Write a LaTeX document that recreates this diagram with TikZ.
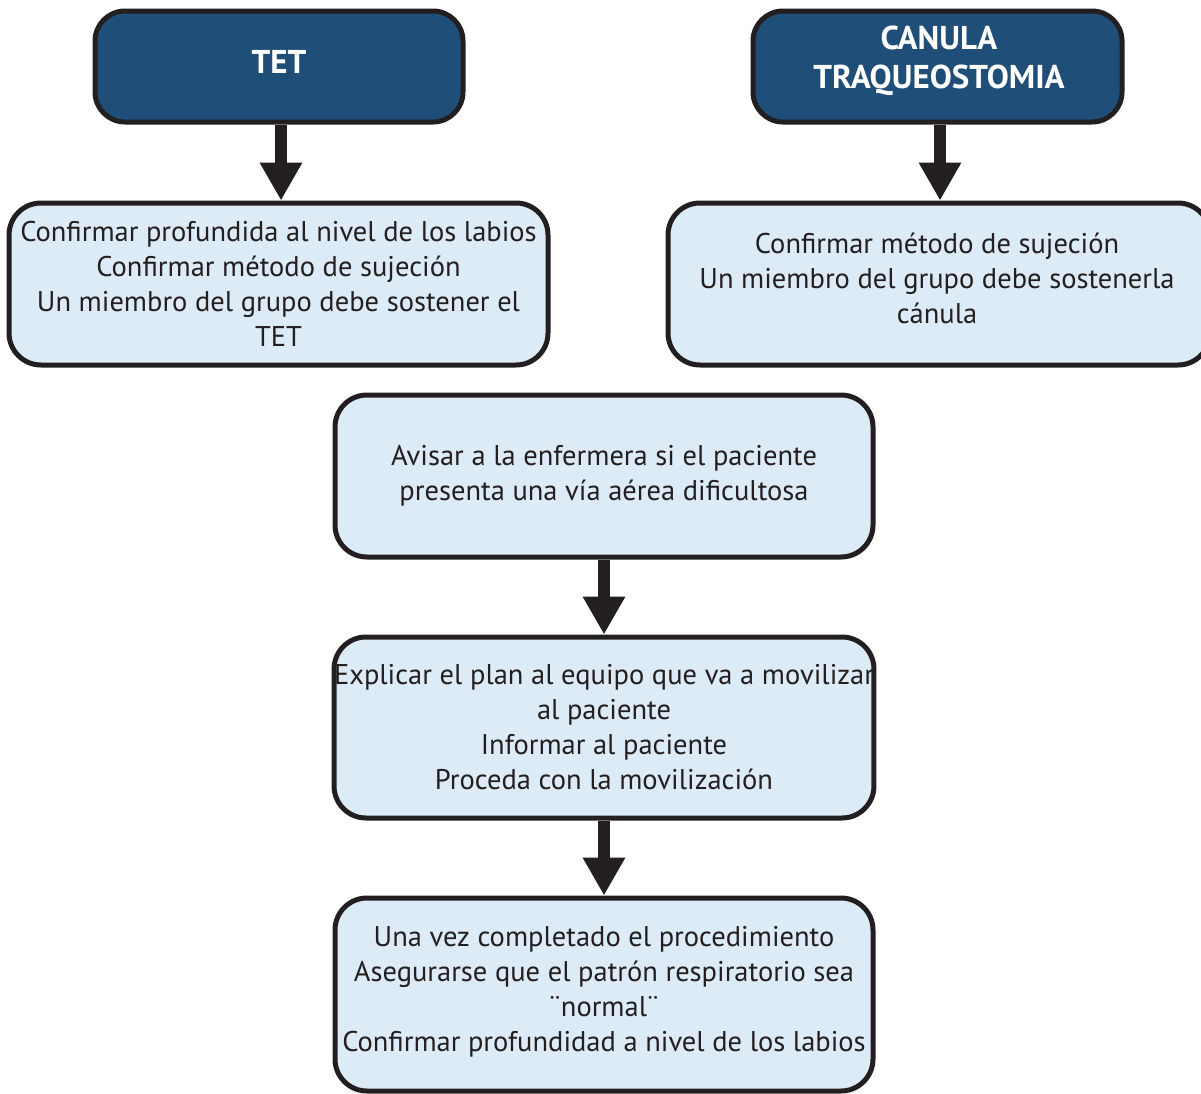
\documentclass[tikz,border=0pt]{standalone}
\usepackage{fontspec}
\setmainfont{PT Sans}
\usetikzlibrary{arrows.meta}
\definecolor{hdr}{HTML}{1F4E79}
\definecolor{lite}{HTML}{DDEBF7}
\definecolor{ink}{HTML}{231F20}
\tikzset{
  hdrbox/.style={draw=ink, line width=5pt, fill=hdr, rounded corners=30pt, inner sep=0pt},
  hdrtext/.style={text=white, font=\fontsize{33}{39}\selectfont\bfseries, align=center, inner sep=0pt},
  infobox/.style={draw=ink, line width=5pt, fill=lite, rounded corners=32pt, text=ink,
    font=\fontsize{28.5}{35}\selectfont, align=center, inner sep=0pt},
  infotext/.style={text=ink, font=\fontsize{28.5}{35}\selectfont, align=center, inner sep=0pt},
  flowarrow/.style={draw=ink, line width=12pt, -{Triangle[length=38pt,width=40pt]}, color=ink}
}
\begin{document}
\begin{tikzpicture}[x=1pt,y=-1pt]
\useasboundingbox (0,0) rectangle (1201,1093);
\fill[white] (0,0) rectangle (1201,1093);
\node[hdrbox, minimum width=368pt, minimum height=111pt] (tet) at (279,66.5) {};
\node[hdrtext] (tettext) at (279,62) {TET};
\node[hdrbox, minimum width=369pt, minimum height=111pt] (can) at (937.5,66.5) {};
\node[hdrtext] (cantext) at (939,61) {CANULA\\TRAQUEOSTOMIA};
\node[infobox, minimum width=539pt, minimum height=162pt] (b1) at (278.5,284)
  {Confirmar profundida al nivel de los labios\\Confirmar método de sujeción\\Un miembro del grupo debe sostener el\\TET};
\node[infobox, minimum width=542pt, minimum height=162pt] (b2) at (939,284) {};
\node[infotext] (b2text) at (937,278)
  {Confirmar método de sujeción\\Un miembro del grupo debe sostenerla\\cánula};
\node[infobox, minimum width=538pt, minimum height=162pt] (b3) at (604,476)
  {Avisar a la enfermera si el paciente\\presenta una vía aérea dificultosa};
\node[infobox, minimum width=538pt, minimum height=181pt] (b4) at (604,727.5)
  {Explicar el plan al equipo que va a movilizar\\al paciente\\Informar al paciente\\Proceda con la movilización};
\node[infobox, minimum width=538pt, minimum height=193pt] (b5) at (604,994.5) {};
\node[infotext] (b5text) at (604,991.5)
  {Una vez completado el procedimiento\\Asegurarse que el patrón respiratorio sea\\¨normal¨\\Confirmar profundidad a nivel de los labios};
\draw[flowarrow] (tet.south -| 281,0) -- (b1.north -| 281,0);
\draw[flowarrow] (can.south -| 940,0) -- (b2.north -| 940,0);
\draw[flowarrow] (b3.south) -- (b4.north);
\draw[flowarrow] (b4.south) -- (b5.north);
\end{tikzpicture}
\end{document}
